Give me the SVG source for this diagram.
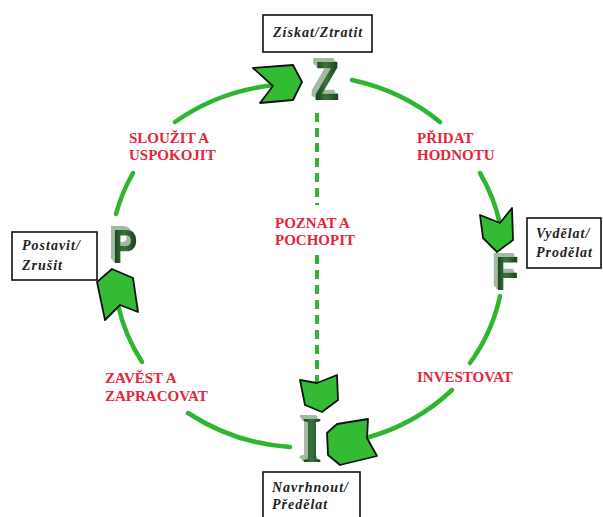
<svg xmlns="http://www.w3.org/2000/svg" width="603" height="517" viewBox="0 0 603 517">
  <defs>
    <linearGradient id="face" x1="0" y1="0" x2="1" y2="0">
      <stop offset="0" stop-color="#143a18"/>
      <stop offset="0.45" stop-color="#3a743d"/>
      <stop offset="1" stop-color="#173f1b"/>
    </linearGradient>
    <filter id="ext" x="-40%" y="-30%" width="180%" height="160%">
      <feOffset in="SourceAlpha" dx="-2" dy="-1.5" result="o1"/>
      <feOffset in="SourceAlpha" dx="-4" dy="-3" result="o2"/>
      <feOffset in="SourceAlpha" dx="-5.5" dy="-4" result="o3"/>
      <feMerge result="m"><feMergeNode in="o1"/><feMergeNode in="o2"/><feMergeNode in="o3"/></feMerge>
      <feFlood flood-color="#a4b8a4"/>
      <feComposite in2="m" operator="in" result="s"/>
      <feMerge><feMergeNode in="s"/><feMergeNode in="SourceGraphic"/></feMerge>
    </filter>
    <style>
      .arc{fill:none;stroke:#2fb52f;stroke-width:4.5;stroke-linecap:round}
      .dash{fill:none;stroke:#2fb52f;stroke-width:4;stroke-dasharray:9 6}
      .chev{fill:#33bb33;stroke:#111;stroke-width:1.8;stroke-linejoin:round}
      .lbl{font-family:"Liberation Serif","Times New Roman",serif;font-weight:bold;font-size:15px;fill:#e3263a}
      .box{fill:#fff;stroke:#111;stroke-width:1.6}
      .btx{font-family:"Liberation Serif","Times New Roman",serif;font-weight:bold;font-style:italic;font-size:14px;fill:#222;letter-spacing:1px}
      .let{fill:url(#face);filter:url(#ext)}
      .sans{font-family:"Liberation Sans",Arial,sans-serif;font-weight:bold;text-anchor:middle}
      .serif{font-family:"Liberation Serif","Times New Roman",serif;font-weight:bold;text-anchor:middle}
    </style>
  </defs>

  <g id="connectors">
    <path class="arc" d="M116,214 A200,184 0 0 1 133,173"/>
    <path class="arc" d="M175,122 A200,184 0 0 1 275,85"/>
    <path class="arc" d="M352,80 A200,184 0 0 1 440,122"/>
    <path class="arc" d="M480,173 A200,184 0 0 1 500,224"/>
    <path class="arc" d="M500,296 A200,184 0 0 1 470,363"/>
    <path class="arc" d="M452,390 A200,184 0 0 1 366,438"/>
    <path class="arc" d="M290,447 A200,184 0 0 1 188,413"/>
    <path class="arc" d="M142,362 A200,184 0 0 1 118,305"/>
    <path class="dash" d="M317,113 V205 M317,255 V386"/>
    <text class="lbl" x="129" y="143">SLOUŽIT A</text>
    <text class="lbl" x="129" y="160">USPOKOJIT</text>
    <text class="lbl" x="417" y="143">PŘIDAT</text>
    <text class="lbl" x="417" y="160">HODNOTU</text>
    <text class="lbl" x="275" y="228">POZNAT A</text>
    <text class="lbl" x="275" y="245">POCHOPIT</text>
    <text class="lbl" x="105" y="383">ZAVĚST A</text>
    <text class="lbl" x="105" y="401">ZAPRACOVAT</text>
    <text class="lbl" x="417" y="382">INVESTOVAT</text>
  </g>

  <g id="node-Z">
    <rect class="box" x="263" y="15" width="109" height="37"/>
    <text class="btx" x="273" y="37">Získat/Ztratit</text>
    <polygon class="chev" points="253,68 293,65 302,82 293,100 260,103 273,86"/>
    <text class="sans let" font-size="55" transform="translate(327,100) scale(0.74,1)">Z</text>
  </g>

  <g id="node-F">
    <rect class="box" x="527" y="218" width="74" height="50"/>
    <text class="btx" x="536" y="238" letter-spacing="0.6">Vydělat/</text>
    <text class="btx" x="536" y="257" letter-spacing="0.6">Prodělat</text>
    <polygon class="chev" points="480,215 500,223 512,208 513,240 497,252 483,238"/>
    <text class="sans let" font-size="48" transform="translate(507,290) scale(0.8,1)">F</text>
  </g>

  <g id="node-I">
    <rect class="box" x="263" y="472" width="97" height="60"/>
    <text class="btx" x="272" y="492">Navrhnout/</text>
    <text class="btx" x="272" y="509">Předělat</text>
    <polygon class="chev" points="300,380 317,383 337,375 338,400 322,412 305,405"/>
    <polygon class="chev" points="327,433 337,424 368,419 367,438 377,456 340,465 328,455"/>
    <text class="serif let" font-size="66" transform="translate(312,462) scale(0.78,1)">I</text>
  </g>

  <g id="node-P">
    <rect class="box" x="12" y="232" width="85" height="48"/>
    <text class="btx" x="22" y="250" letter-spacing="1.3">Postavit/</text>
    <text class="btx" x="22" y="270" letter-spacing="1.3">Zrušit</text>
    <polygon class="chev" points="97,282 112,269 133,278 138,312 120,305 105,320"/>
    <text class="sans let" font-size="48" transform="translate(125,263) scale(0.78,1)">P</text>
  </g>
</svg>
